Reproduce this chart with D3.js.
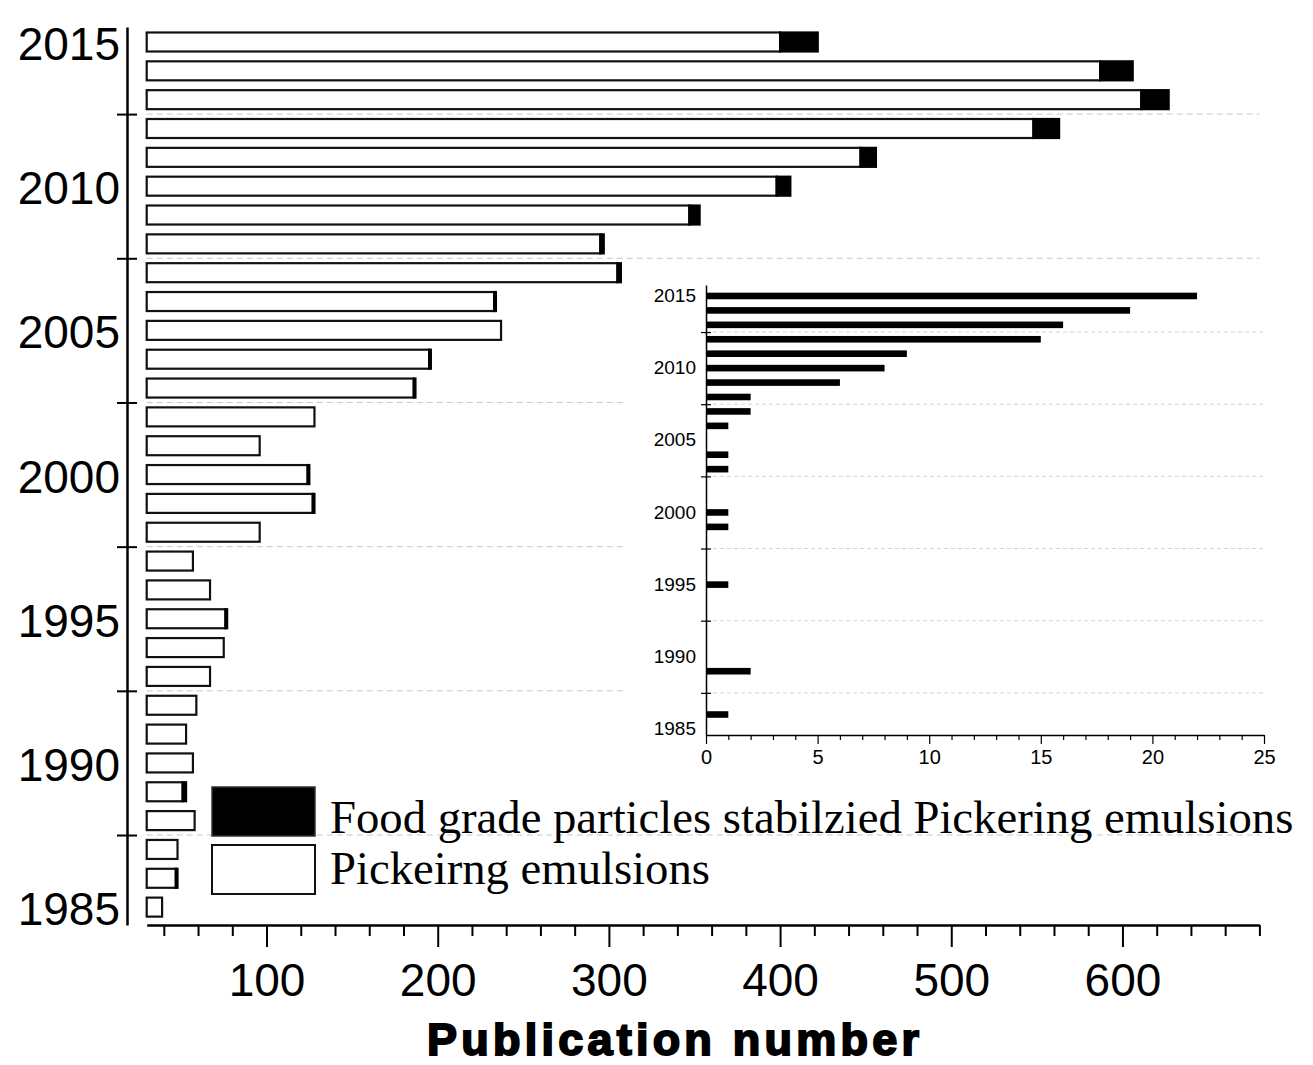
<!DOCTYPE html>
<html>
<head>
<meta charset="utf-8">
<script src="https://cdn.jsdelivr.net/npm/d3@7"></script>
<style>
  body { margin: 0; background: #fff; }
  svg text { font-family: "Liberation Sans", Arial, sans-serif; }
</style>
</head>
<body>
<div id="chartContainer"></div>
<script>
const years = [1985, 1986, 1987, 1988, 1989, 1990, 1991, 1992, 1993, 1994,
               1995, 1996, 1997, 1998, 1999, 2000, 2001, 2002, 2003, 2004,
               2005, 2006, 2007, 2008, 2009, 2010, 2011, 2012, 2013, 2014, 2015];
// white part of each bar (Pickering emulsions, other than food grade)
const pickering = [39, 47, 48, 58, 51, 57, 53, 59, 67, 75,
                   76, 67, 57, 96, 127, 124, 96, 128, 186, 195,
                   237, 233, 305, 295, 347, 398, 447, 548, 611, 587, 400];
// black part (food grade particles), also the inset
const foodGrade = [0, 1, 0, 0, 2, 0, 0, 0, 0, 0,
                   1, 0, 0, 0, 1, 1, 0, 0, 1, 1,
                   0, 1, 2, 2, 6, 8, 9, 15, 16, 19, 22];
const yearLabels = [1985, 1990, 1995, 2000, 2005, 2010, 2015];
const yearTicks = [1987.5, 1992.5, 1997.5, 2002.5, 2007.5, 2012.5];
const xMajor = [100, 200, 300, 400, 500, 600];
const xMinor = [40, 60, 80, 120, 140, 160, 180, 220, 240, 260, 280, 320, 340, 360, 380,
                420, 440, 460, 480, 520, 540, 560, 580, 620, 640, 660, 680];
const insetMajor = [0, 5, 10, 15, 20, 25];
const insetMinor = [1, 2, 3, 4, 6, 7, 8, 9, 11, 12, 13, 14, 16, 17, 18, 19, 21, 22, 23, 24];
const legendNames = ["Food grade particles stabilzied Pickering emulsions", "Pickeirng emulsions"];

const data = years.map((y, i) => ({ year: y, white: pickering[i], food: foodGrade[i] }));

const svg = d3.select("#chartContainer")
  .append("svg")
  .attr("width", 1313)
  .attr("height", 1065);

// main scales
const x = d3.scaleLinear().domain([30, 680]).range([146.7, 1259.4]);
const y = d3.scaleLinear().domain([1984.38, 2015.52]).range([925, 27]);

// dashed grid
svg.append("g")
  .selectAll("line")
  .data(yearTicks)
  .enter()
  .append("line")
  .attr("x1", x(30))
  .attr("x2", x(680))
  .attr("y1", d => y(d))
  .attr("y2", d => y(d))
  .attr("stroke", "#c8c8c8")
  .attr("stroke-width", 1)
  .attr("stroke-dasharray", "6,4");

// bars
const barH = 19;
const bars = svg.append("g");
bars.selectAll(".white")
  .data(data)
  .enter()
  .append("rect")
  .attr("class", "white")
  .attr("x", x(30))
  .attr("y", d => y(d.year) - barH / 2)
  .attr("width", d => x(d.white) - x(30))
  .attr("height", barH)
  .attr("fill", "#fff")
  .attr("stroke", "#111")
  .attr("stroke-width", 2.2);

bars.selectAll(".black")
  .data(data.filter(d => d.food > 0))
  .enter()
  .append("rect")
  .attr("class", "black")
  .attr("x", d => x(d.white))
  .attr("y", d => y(d.year) - barH / 2)
  .attr("width", d => x(d.white + d.food) - x(d.white))
  .attr("height", barH)
  .attr("fill", "#000")
  .attr("stroke", "#000")
  .attr("stroke-width", 2.2);

// x axis
const xMinorAxis = svg.append("g")
  .attr("transform", "translate(0,925)")
  .call(d3.axisBottom(x).tickValues(xMinor).tickSize(11).tickSizeOuter(0).tickFormat(""));
xMinorAxis.select(".domain").attr("stroke-width", 2.5);
xMinorAxis.selectAll(".tick line").attr("stroke-width", 2);

const xMajorAxis = svg.append("g")
  .attr("transform", "translate(0,925)")
  .call(d3.axisBottom(x).tickValues(xMajor).tickSize(22).tickSizeOuter(0).tickPadding(16));
xMajorAxis.select(".domain").remove();
xMajorAxis.selectAll(".tick line").attr("stroke-width", 2);
xMajorAxis.selectAll("text")
  .attr("font-size", 46)
  .attr("fill", "#000");

svg.append("text")
  .attr("x", 673)
  .attr("y", 1055)
  .attr("text-anchor", "middle")
  .attr("font-size", 45)
  .attr("font-weight", "bold")
  .attr("stroke", "#000")
  .attr("stroke-width", 2)
  .attr("textLength", 492)
  .attr("lengthAdjust", "spacing")
  .text("Publication number");

// y axis
const yAxisLine = svg.append("g")
  .attr("transform", "translate(127,0)")
  .call(d3.axisLeft(y).tickValues(yearTicks).tickSize(10).tickSizeOuter(0).tickFormat(""));
yAxisLine.select(".domain").attr("stroke-width", 2.5);
yAxisLine.selectAll(".tick line").attr("x1", 10).attr("stroke-width", 2);

const yLabels = svg.append("g")
  .attr("transform", "translate(127,0)")
  .call(d3.axisLeft(y).tickValues(yearLabels).tickSize(0).tickPadding(7).tickFormat(d3.format("d")));
yLabels.select(".domain").remove();
yLabels.selectAll("text")
  .attr("font-size", 46)
  .attr("dy", "0.38em")
  .attr("fill", "#000");

// legend
const legend = svg.append("g");
legend.append("rect")
  .attr("x", 212).attr("y", 787).attr("width", 103).attr("height", 49)
  .attr("fill", "#000").attr("stroke", "#333").attr("stroke-width", 1.5);
legend.append("rect")
  .attr("x", 212).attr("y", 845).attr("width", 103).attr("height", 49)
  .attr("fill", "#fff").attr("stroke", "#111").attr("stroke-width", 2);
legend.selectAll("text")
  .data(legendNames)
  .enter()
  .append("text")
  .attr("x", 330)
  .attr("y", (d, i) => 833 + i * 51)
  .style("font-family", "'Liberation Serif', 'Times New Roman', serif")
  .attr("font-size", 46.7)
  .attr("fill", "#000")
  .text(d => d);

// inset
const inset = svg.append("g");
inset.append("rect")
  .attr("x", 626).attr("y", 276).attr("width", 650).attr("height", 500)
  .attr("fill", "#fff");

const ix = d3.scaleLinear().domain([0, 25]).range([706, 1264]);
const iy = d3.scaleLinear().domain([1984.58, 2015.76]).range([735, 285]);

inset.append("g")
  .selectAll("line")
  .data(yearTicks)
  .enter()
  .append("line")
  .attr("x1", ix(0))
  .attr("x2", ix(25))
  .attr("y1", d => iy(d))
  .attr("y2", d => iy(d))
  .attr("stroke", "#d4d4d4")
  .attr("stroke-width", 1)
  .attr("stroke-dasharray", "4,3");

inset.selectAll(".ibar")
  .data(data.filter(d => d.food > 0))
  .enter()
  .append("rect")
  .attr("class", "ibar")
  .attr("x", ix(0))
  .attr("y", d => iy(d.year) - 3.3)
  .attr("width", d => ix(d.food) - ix(0))
  .attr("height", 6.6)
  .attr("fill", "#000");

const ixMinor = inset.append("g")
  .attr("transform", "translate(0,735)")
  .call(d3.axisBottom(ix).tickValues(insetMinor).tickSize(5).tickSizeOuter(0).tickFormat(""));
ixMinor.select(".domain").attr("stroke-width", 1.5);
ixMinor.selectAll(".tick line").attr("stroke-width", 1.2);

const ixMajor = inset.append("g")
  .attr("transform", "translate(0,735)")
  .call(d3.axisBottom(ix).tickValues(insetMajor).tickSize(9).tickSizeOuter(0).tickPadding(6));
ixMajor.select(".domain").remove();
ixMajor.selectAll(".tick line").attr("stroke-width", 1.2);
ixMajor.selectAll("text").attr("font-size", 20).attr("fill", "#000");

const iyLine = inset.append("g")
  .attr("transform", "translate(706,0)")
  .call(d3.axisLeft(iy).tickValues(yearTicks).tickSize(5).tickSizeOuter(0).tickFormat(""));
iyLine.select(".domain").attr("stroke-width", 1.5);
iyLine.selectAll(".tick line").attr("x1", 5).attr("stroke-width", 1.2);

const iyLabels = inset.append("g")
  .attr("transform", "translate(706,0)")
  .call(d3.axisLeft(iy).tickValues(yearLabels).tickSize(0).tickPadding(10).tickFormat(d3.format("d")));
iyLabels.select(".domain").remove();
iyLabels.selectAll("text").attr("font-size", 19).attr("dy", "0.3em").attr("fill", "#000");
</script>
</body>
</html>
